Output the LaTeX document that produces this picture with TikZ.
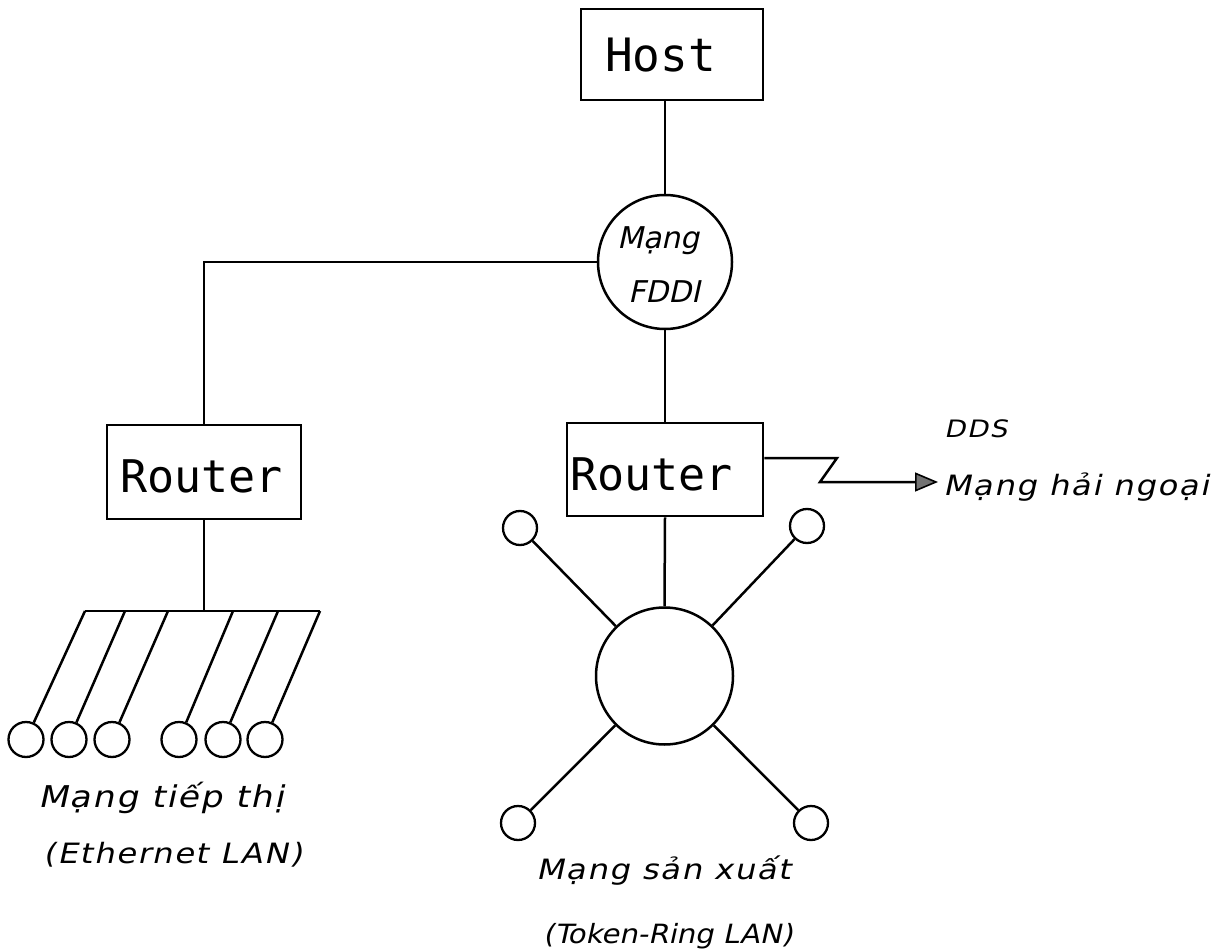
\documentclass[tikz,border=0pt]{standalone}
\usepackage{fontspec}
\usetikzlibrary{arrows.meta}
% plotter-like lettering
\newfontfamily\boxfont{DejaVu Sans Mono}
\newfontfamily\tagfont[FakeStretch=1.15,FakeSlant=0.22,LetterSpace=6]{DejaVu Sans}
\newfontfamily\tagnarrow[FakeStretch=1.1,FakeSlant=0.22]{DejaVu Sans}
\newfontfamily\tagplain[FakeSlant=0.22]{DejaVu Sans}

\tikzset{
  wire/.style={line width=2.5pt},
  netbox/.style={draw, line width=2.8pt, inner sep=0pt},
  station/.style={draw, circle, line width=2.3pt, minimum size=35pt, inner sep=0pt},
  ringnet/.style={draw, circle, line width=2.5pt, inner sep=0pt},
  boxtext/.style={anchor=base west, inner sep=0pt, font=\boxfont\fontsize{45}{50}\selectfont},
  tag/.style={anchor=base west, inner sep=0pt},
}

\begin{document}
\begin{tikzpicture}[x=1pt, y=-1pt]
\useasboundingbox[fill=white] (0,0) rectangle (1221,952);

% host and FDDI backbone
\node[netbox, minimum width=182pt, minimum height=91pt] (host) at (672,54.5) {};
\node[boxtext, font=\boxfont\fontsize{46}{50}\selectfont] (hostlbl) at (605,72) {Host};

\node[ringnet, minimum size=134pt] (fddi) at (665,262) {};
\node[tag, font=\tagplain\fontsize{30}{34}\selectfont] (fddi1) at (617,248) {Mạng};
\node[tag, font=\tagplain\fontsize{30}{34}\selectfont] (fddi2) at (628,302) {FDDI};

% routers
\node[netbox, minimum width=194pt, minimum height=94pt] (r1) at (204,472) {};
\node[boxtext] (r1lbl) at (120,492) {Router};
\node[netbox, minimum width=196pt, minimum height=93pt] (r2) at (665,469.5) {};
\node[boxtext] (r2lbl) at (570,490) {Router};

\draw[wire] (fddi.north) -- (fddi.north |- host.south);
\draw[wire] (fddi.west) -| (r1.north);
\draw[wire] (fddi.south) -- (r2.north);

% DDS link to the overseas network
\coordinate (z1) at (837,458);
\coordinate (z2) at (820,482);
\coordinate (far) at (938,482);
\draw[wire, line join=miter] (r2.east |- z1) -- (z1) -- (z2) -- ([xshift=-4pt]far);
\draw[line width=1.6pt, -{Triangle[length=23pt,width=19pt,fill=black!55]}] (900,482) -- (far);
\node[tag, font=\tagfont\fontsize{24}{26}\selectfont] (dds) at (944,437) {DDS};
\node[tag, font=\tagfont\fontsize{28}{30}\selectfont] (overseas) at (943,495) {Mạng hải ngoại};

% Ethernet LAN (bus)
\coordinate (b1) at (85,611);
\coordinate (b2) at (125,611);
\coordinate (b3) at (168,611);
\coordinate (b4) at (233,611);
\coordinate (b5) at (278,611);
\coordinate (b6) at (320,611);
\draw[wire] (r1.south) -- (r1.south |- b1);
\draw[wire] (b1) -- (b6);
\foreach \i/\x in {1/26,2/69,3/112,4/179,5/223,6/265}{
  \node[station] (e\i) at (\x,739.5) {};
  \draw[wire] (b\i) -- (e\i);
}
\node[tag, font=\tagfont\fontsize{30}{32}\selectfont] (lan1a) at (38,807) {Mạng tiếp thị};
\node[tag, font=\tagfont\fontsize{28}{30}\selectfont] (lan1b) at (43,863) {(Ethernet LAN)};

% Token-Ring LAN
\node[ringnet, minimum size=137pt] (ring) at (664.5,676) {};
\draw[wire] (r2.south) -- (ring.north);
\node[station, minimum size=34pt] (t1) at (520,528) {};
\node[station, minimum size=34pt] (t2) at (807,526) {};
\node[station, minimum size=34pt] (t3) at (518,823) {};
\node[station, minimum size=34pt] (t4) at (811,823) {};
\foreach \t in {t1,t2,t3,t4}{ \draw[wire] (ring) -- (\t); }
\node[tag, font=\tagfont\fontsize{28}{30}\selectfont] (lan2a) at (536,879) {Mạng sản xuất};
\node[tag, font=\tagnarrow\fontsize{26.5}{30}\selectfont] (lan2b) at (543,943) {(Token-Ring LAN)};
\end{tikzpicture}
\end{document}
